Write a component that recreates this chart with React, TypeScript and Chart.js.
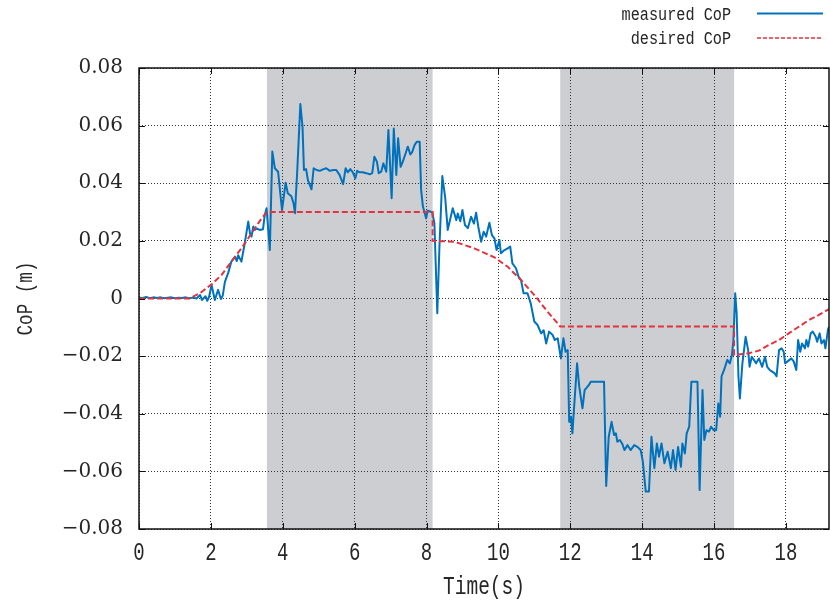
import React, { useEffect, useRef } from "react";
import { Chart, registerables } from "chart.js";

Chart.register(...registerables);

// ---- data ----
const measuredT = [
  0.0, 0.1, 0.2, 0.3, 0.4, 0.5, 0.6, 0.7, 0.8, 0.9, 1.0, 1.1, 1.2, 1.3, 1.4, 1.5, 1.6, 1.7, 1.75, 1.85,
  1.9, 1.95, 2.02, 2.11, 2.2, 2.28, 2.33, 2.39, 2.48, 2.57, 2.67, 2.72, 2.76, 2.85, 2.94, 3.04, 3.09, 3.13, 3.18, 3.22,
  3.27, 3.36, 3.45, 3.5, 3.55, 3.64, 3.71, 3.78, 3.87, 3.98, 4.08, 4.14, 4.24, 4.3, 4.34, 4.4, 4.49, 4.55, 4.59, 4.65,
  4.7, 4.8, 4.86, 4.94, 5.03, 5.12, 5.21, 5.31, 5.4, 5.49, 5.58, 5.68, 5.75, 5.81, 5.88, 5.95, 6.02, 6.07, 6.14, 6.23,
  6.32, 6.42, 6.49, 6.55, 6.62, 6.67, 6.74, 6.8, 6.88, 6.94, 7.03, 7.09, 7.16, 7.21, 7.28, 7.34, 7.42, 7.48, 7.55, 7.6,
  7.67, 7.73, 7.81, 7.85, 7.9, 7.94, 7.99, 8.03, 8.1, 8.16, 8.22, 8.3, 8.36, 8.44, 8.52, 8.59, 8.73, 8.83, 8.87, 8.94,
  9.0, 9.07, 9.15, 9.24, 9.32, 9.38, 9.44, 9.52, 9.59, 9.66, 9.75, 9.82, 9.89, 9.95, 10.03, 10.07, 10.17, 10.26, 10.33, 10.39,
  10.49, 10.56, 10.63, 10.7, 10.81, 10.9, 11.0, 11.09, 11.19, 11.26, 11.33, 11.41, 11.51, 11.57, 11.65, 11.74, 11.81, 11.87, 11.93, 11.97,
  12.02, 12.06, 12.1, 12.19, 12.25, 12.34, 12.4, 12.48, 12.52, 12.57, 12.94, 13.0, 13.07, 13.15, 13.22, 13.27, 13.31, 13.38, 13.45, 13.51,
  13.59, 13.68, 13.78, 13.87, 13.96, 14.02, 14.1, 14.19, 14.26, 14.34, 14.41, 14.47, 14.54, 14.62, 14.71, 14.8, 14.86, 14.93, 15.0, 15.08,
  15.12, 15.19, 15.24, 15.31, 15.37, 15.54, 15.6, 15.68, 15.73, 15.79, 15.86, 15.92, 15.99, 16.06, 16.12, 16.17, 16.21, 16.28, 16.37, 16.44,
  16.5, 16.54, 16.59, 16.63, 16.68, 16.72, 16.79, 16.88, 16.95, 16.99, 17.05, 17.11, 17.17, 17.25, 17.34, 17.42, 17.48, 17.55, 17.62, 17.69,
  17.74, 17.81, 17.88, 17.94, 17.98, 18.04, 18.1, 18.15, 18.22, 18.29, 18.34, 18.4, 18.45, 18.53, 18.57, 18.62, 18.69, 18.75, 18.83, 18.87,
  18.94, 18.99, 19.06, 19.1, 19.17, 19.2,
];
const measuredV = [
  0.0003, 0.0002, 0.0005, 0.0001, 0.0004, 0.0002, 0.0004, 0.0001, 0.0003, 0.0004, 0.0001, 0.0003, 0.0002, 0.0004, 0.0001, 0.0003, 0.0, 0.0012, -0.0005, 0.0008,
  -0.0008, 0.0006, 0.0047, -0.0005, 0.003, -0.0002, 0.001, 0.0058, 0.0088, 0.0128, 0.0145, 0.013, 0.015, 0.0128, 0.019, 0.0267, 0.0225, 0.0215, 0.025, 0.0238,
  0.0243, 0.0238, 0.024, 0.029, 0.0313, 0.0168, 0.051, 0.0452, 0.044, 0.0307, 0.0402, 0.0365, 0.0355, 0.033, 0.0296, 0.0435, 0.0675, 0.0596, 0.0446, 0.0449,
  0.0411, 0.0379, 0.0452, 0.0446, 0.0443, 0.0448, 0.0452, 0.0443, 0.0446, 0.0446, 0.0429, 0.0397, 0.0452, 0.0438, 0.0449, 0.0438, 0.0417, 0.0443, 0.0438, 0.0438,
  0.0435, 0.0431, 0.0435, 0.0492, 0.0475, 0.0435, 0.044, 0.0469, 0.044, 0.0585, 0.0348, 0.059, 0.0429, 0.0556, 0.0457, 0.0475, 0.0504, 0.0527, 0.05, 0.0508,
  0.0533, 0.0544, 0.0544, 0.0377, 0.0319, 0.0302, 0.0278, 0.0305, 0.0302, 0.0299, 0.0261, -0.0051, 0.018, 0.0425, 0.035, 0.0238, 0.0313, 0.0272, 0.0295, 0.0268,
  0.0307, 0.0255, 0.0244, 0.0284, 0.026, 0.0298, 0.025, 0.0197, 0.0232, 0.0215, 0.0263, 0.022, 0.0209, 0.0168, 0.0203, 0.0157, 0.0168, 0.0174, 0.018, 0.0122,
  0.0105, 0.0076, 0.0064, 0.0018, 0.0018, -0.0017, -0.008, -0.0092, -0.0121, -0.011, -0.0156, -0.0115, -0.0127, -0.0144, -0.0138, -0.0208, -0.0138, -0.0185, -0.0179, -0.0428,
  -0.041, -0.0468, -0.039, -0.0225, -0.0306, -0.0381, -0.0318, -0.0306, -0.03, -0.0289, -0.0289, -0.0651, -0.048, -0.0428, -0.0474, -0.0468, -0.0497, -0.0491, -0.0505, -0.0526,
  -0.0509, -0.0526, -0.0509, -0.0515, -0.0526, -0.0566, -0.067, -0.067, -0.048, -0.0589, -0.0503, -0.0549, -0.0503, -0.0572, -0.0532, -0.0589, -0.0526, -0.0595, -0.0515, -0.0584,
  -0.0503, -0.0538, -0.0468, -0.0445, -0.0289, -0.0289, -0.0665, -0.0318, -0.0491, -0.0457, -0.0462, -0.0445, -0.0457, -0.0457, -0.0364, -0.041, -0.027, -0.0248, -0.0213, -0.0225,
  -0.0196, -0.0144, 0.0018, -0.0051, -0.027, -0.0347, -0.0225, -0.0133, -0.0179, -0.0237, -0.0202, -0.0213, -0.0225, -0.0208, -0.0237, -0.0202, -0.0237, -0.0248, -0.0254, -0.026,
  -0.027, -0.0179, -0.0173, -0.0185, -0.0225, -0.0219, -0.0213, -0.0208, -0.0219, -0.0248, -0.0144, -0.0185, -0.0156, -0.0173, -0.0144, -0.0167, -0.0121, -0.0115, -0.0133, -0.015,
  -0.0121, -0.0156, -0.0144, -0.0173, -0.0109, -0.0098,
];

const desiredT = [
  0, 1.4, 1.69, 2.02, 2.3, 2.57, 2.85, 3.13, 3.41, 3.56, 8.17, 8.17, 8.78, 9.33, 9.89, 10.26, 10.63, 11.0, 11.37, 11.72,
  16.56, 16.56, 16.97, 17.25, 17.53, 17.81, 18.08, 18.36, 18.64, 18.92, 19.2,
];
const desiredV = [
  0, 0, 0.0018, 0.0049, 0.0082, 0.0128, 0.0174, 0.0226, 0.0278, 0.03, 0.03, 0.02, 0.0197, 0.0174, 0.0143, 0.011, 0.0064, 0.0012, -0.0046, -0.0097,
  -0.0097, -0.0196, -0.019, -0.0181, -0.0161, -0.0144, -0.0121, -0.0098, -0.0075, -0.0057, -0.0037,
];

const shadeStart = [3.56, 11.72];
const shadeEnd = [8.17, 16.56];

const xTicks = [0, 2, 4, 6, 8, 10, 12, 14, 16, 18];
const yTicks = [-0.08, -0.06, -0.04, -0.02, 0, 0.02, 0.04, 0.06, 0.08];

const seriesNames = ["measured CoP", "desired CoP"];
const xTitle = "Time(s)";
const yTitle = "CoP (m)";

const BLUE = "#0072bd";
const RED = "#e5323e";
const TEXT = "#262626";
const CONDENSED_FONT = "'Liberation Mono', monospace";

function condensedText(
  ctx: CanvasRenderingContext2D,
  text: string,
  x: number,
  y: number,
  size: number,
  sx: number,
  align: CanvasTextAlign,
  rotate = 0
) {
  ctx.save();
  ctx.translate(x, y);
  if (rotate) ctx.rotate(rotate);
  ctx.scale(sx, 1);
  ctx.font = `${size}px ${CONDENSED_FONT}`;
  ctx.fillStyle = TEXT;
  ctx.textAlign = align;
  ctx.textBaseline = "middle";
  ctx.fillText(text, 0, 0);
  ctx.restore();
}

export default function App() {
  const ref = useRef<HTMLCanvasElement | null>(null);

  useEffect(() => {
    if (!ref.current) return;

    const shadePlugin = {
      id: "shade",
      beforeDraw(chart: any) {
        const { ctx, chartArea: a, scales } = chart;
        const x = scales.x;
        ctx.save();
        ctx.fillStyle = "#cdced1";
        for (let i = 0; i < shadeStart.length; i++) {
          const x0 = x.getPixelForValue(shadeStart[i]);
          const x1 = x.getPixelForValue(shadeEnd[i]);
          ctx.fillRect(x0, a.top, x1 - x0, a.bottom - a.top);
        }
        ctx.restore();
      },
    };

    const framePlugin = {
      id: "frame",
      afterDatasetsDraw(chart: any) {
        const { ctx, chartArea: a, scales } = chart;
        const x = scales.x;
        const y = scales.y;
        ctx.save();
        ctx.strokeStyle = "#111";
        ctx.lineWidth = 1;
        ctx.beginPath();
        for (const t of xTicks) {
          const px = Math.round(x.getPixelForValue(t)) + 0.5;
          ctx.moveTo(px, a.bottom);
          ctx.lineTo(px, a.bottom - 6);
          ctx.moveTo(px, a.top);
          ctx.lineTo(px, a.top + 6);
        }
        for (const v of yTicks) {
          const py = Math.round(y.getPixelForValue(v)) + 0.5;
          ctx.moveTo(a.left, py);
          ctx.lineTo(a.left + 6, py);
          ctx.moveTo(a.right, py);
          ctx.lineTo(a.right - 6, py);
        }
        ctx.stroke();
        ctx.lineWidth = 1.5;
        ctx.strokeRect(a.left, a.top, a.right - a.left, a.bottom - a.top);
        ctx.restore();
      },
      afterDraw(chart: any) {
        const { ctx, chartArea: a, scales } = chart;
        const x = scales.x;
        // x tick labels
        for (const t of xTicks) {
          condensedText(ctx, String(t), x.getPixelForValue(t), 553, 25, 0.76, "center");
        }
        // axis titles
        condensedText(ctx, xTitle, (a.left + a.right) / 2, 587, 25, 0.78, "center");
        condensedText(ctx, yTitle, 26, (a.top + a.bottom) / 2, 22, 0.8, "center", -Math.PI / 2);
        // legend
        condensedText(ctx, seriesNames[0], 731, 15, 19, 0.8, "right");
        condensedText(ctx, seriesNames[1], 731, 39, 19, 0.8, "right");
        ctx.save();
        ctx.lineWidth = 1.8;
        ctx.strokeStyle = BLUE;
        ctx.beginPath();
        ctx.moveTo(757, 13.5);
        ctx.lineTo(823, 13.5);
        ctx.stroke();
        ctx.strokeStyle = RED;
        ctx.lineWidth = 1.5;
        ctx.setLineDash([4, 2]);
        ctx.beginPath();
        ctx.moveTo(757, 38);
        ctx.lineTo(823, 38);
        ctx.stroke();
        ctx.restore();
      },
    };

    const chart = new Chart(ref.current, {
      type: "line",
      data: {
        datasets: [
          {
            label: seriesNames[1],
            data: desiredT.map((t, i) => ({ x: t, y: desiredV[i] })),
            borderColor: RED,
            borderWidth: 2,
            borderDash: [6, 3],
            pointRadius: 0,
            tension: 0,
          },
          {
            label: seriesNames[0],
            data: measuredT.map((t, i) => ({ x: t, y: measuredV[i] })),
            borderColor: BLUE,
            borderWidth: 2,
            borderJoinStyle: "round",
            pointRadius: 0,
            tension: 0,
          },
        ],
      },
      options: {
        animation: false,
        responsive: true,
        maintainAspectRatio: false,
        layout: { padding: { top: 68, right: 1, left: 0, bottom: 0 } },
        plugins: { legend: { display: false }, tooltip: { enabled: false } },
        scales: {
          x: {
            type: "linear",
            min: 0,
            max: 19.2,
            afterFit: (s: any) => {
              s.height = 71;
            },
            afterBuildTicks: (s: any) => {
              s.ticks = xTicks.map((v) => ({ value: v }));
            },
            ticks: { display: false },
            grid: { color: "#333", lineWidth: 1, drawTicks: false },
            border: { display: false, dash: [1, 2] },
          },
          y: {
            type: "linear",
            min: -0.08,
            max: 0.08,
            afterFit: (s: any) => {
              s.width = 139;
            },
            afterBuildTicks: (s: any) => {
              s.ticks = yTicks.map((v) => ({ value: v }));
            },
            ticks: {
              padding: 16,
              color: TEXT,
              font: { family: "'DejaVu Serif', serif", size: 20 },
              callback: (v: any) => {
                const n = Number(v);
                if (Math.abs(n) < 1e-9) return "0";
                return (n < 0 ? "\u2212" : "") + Math.abs(n).toFixed(2);
              },
            },
            grid: { color: "#333", lineWidth: 1, drawTicks: false },
            border: { display: false, dash: [1, 2] },
          },
        },
      },
      plugins: [shadePlugin, framePlugin],
    });

    return () => chart.destroy();
  }, []);

  return (
    <div
      style={{
        position: "fixed",
        left: 0,
        top: 0,
        width: 830,
        height: 600,
        background: "#fff",
      }}
    >
      <canvas ref={ref} />
    </div>
  );
}
